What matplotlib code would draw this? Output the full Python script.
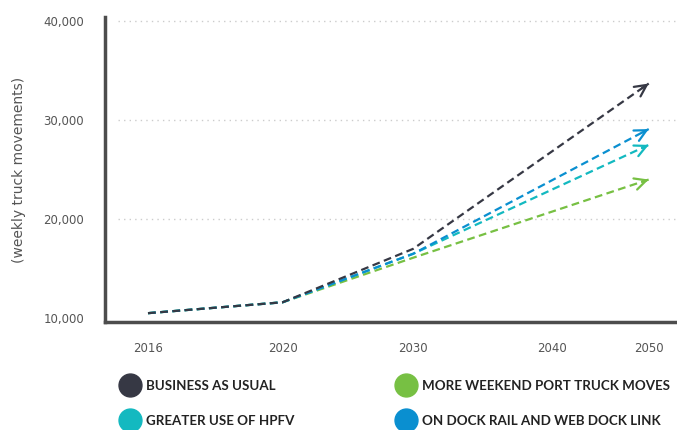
import matplotlib.pyplot as plt
from matplotlib.lines import Line2D

# data
years = ['2016', '2020', '2030', '2040', '2050']
point_years = ['2016', '2020', '2030', '2050']
bau = [10500, 11600, 17000, 33700]
weekend = [10500, 11600, 16100, 24000]
hpfv = [10500, 11600, 16500, 27500]
dock = [10500, 11600, 16500, 29100]
y_ticks = [10000, 20000, 30000, 40000]

names = ['BUSINESS AS USUAL', 'GREATER USE OF HPFV',
	'MORE WEEKEND PORT TRUCK MOVES', 'ON DOCK RAIL AND WEB DOCK LINK']
colors = ['#363844', '#13b9c0', '#77c043', '#0a8fd0']

# the x axis in the original is not evenly spaced
year_pos = {'2016': 0.0, '2020': 1.0, '2030': 1.97, '2040': 3.0, '2050': 3.72}

fig = plt.figure(figsize=(6.77, 4.30), dpi=100)
ax = fig.add_axes([0.155, 0.251, 0.845, 0.709])

xs = [year_pos[y] for y in point_years]
# draw lower ones first so the dark line sits on top
for vals, c in [(weekend, colors[2]), (hpfv, colors[1]), (dock, colors[3]), (bau, colors[0])]:
	ax.plot(xs, vals, color=c, lw=1.6, ls=(0, (3.5, 2)), zorder=3)
	ax.annotate('', xy=(xs[-1], vals[-1]),
		xytext=(xs[-1] - 0.05, vals[-1] - (vals[-1] - vals[-2]) * 0.05 / (xs[-1] - xs[-2])),
		arrowprops=dict(arrowstyle='->', color=c, lw=1.6, mutation_scale=21,
			shrinkA=0, shrinkB=0), zorder=4)

for v in y_ticks[1:]:
	ax.axhline(v, xmin=0.022, xmax=1, color='#cccccc', lw=1, ls=(0, (1, 3)), zorder=1)

ax.set_xlim(-0.32, 3.93)
ax.set_ylim(9600, 40400)
ax.set_xticks([year_pos[y] for y in years])
ax.set_xticklabels(years)
ax.set_yticks(y_ticks)
ax.set_yticklabels(['{:,}'.format(v) for v in y_ticks])
ax.tick_params(length=0, labelsize=8.5, labelcolor='#555555')
ax.tick_params(axis='x', pad=14)
ax.tick_params(axis='y', pad=15)

for s in ['top', 'right']:
	ax.spines[s].set_visible(False)
for s in ['left', 'bottom']:
	ax.spines[s].set_color('#4d4d4d')
	ax.spines[s].set_linewidth(2.5)

ax.set_ylabel('(weekly truck movements)', fontsize=10, color='#555555')
ax.yaxis.set_label_coords(-0.138, 0.5)

# two legend columns placed separately
leg_font = {'family': 'Lato', 'weight': 'bold', 'size': 9.6}
for i, x0 in [(0, 0.1753), (2, 0.583)]:
	handles = [Line2D([], [], ls='', marker='o', markersize=16.5, color=c) for c in colors[i:i + 2]]
	fig.legend(handles, names[i:i + 2], loc='center left', bbox_to_anchor=(x0, 0.062),
		frameon=False, handletextpad=0.35, labelspacing=1.7, borderpad=0,
		borderaxespad=0, handlelength=1.7, prop=leg_font, labelcolor='#222222')

fig.savefig('out.png', dpi=100)
